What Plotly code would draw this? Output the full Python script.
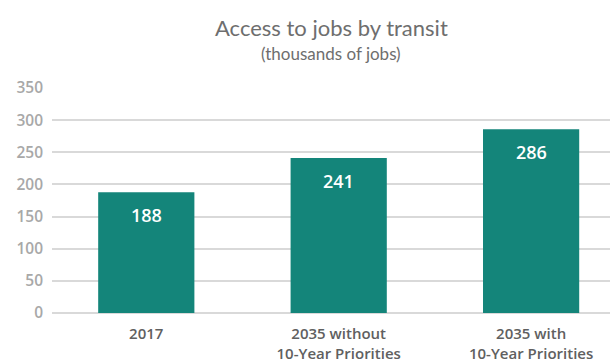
import plotly.graph_objects as go

categories = ["2017", "2035 without<br>10-Year Priorities", "2035 with<br>10-Year Priorities"]
values = [188, 241, 286]
y_ticks = [0, 50, 100, 150, 200, 250, 300, 350]

bar_color = "#14857a"

fig = go.Figure()
fig.add_trace(go.Bar(
    x=list(range(len(categories))),
    y=values,
    width=0.5,
    marker=dict(color=bar_color, line=dict(width=0)),
    hoverinfo="skip",
))

for i, v in enumerate(values):
    fig.add_annotation(
        x=i, y=v, yshift=-23, text=str(v), showarrow=False,
        font=dict(family="Open Sans", size=18, color="white", weight=600),
    )

fig.add_annotation(
    xref="paper", yref="paper", x=0.5, y=1, yshift=61, xanchor="center", yanchor="middle",
    text="Access to jobs by transit", showarrow=False,
    font=dict(family="Lato", size=22, color="#6e6e6e"),
)
fig.add_annotation(
    xref="paper", yref="paper", x=0.5, y=1, yshift=35, xanchor="center", yanchor="middle",
    text="(thousands of jobs)", showarrow=False,
    font=dict(family="Lato", size=17, color="#6e6e6e"),
)

fig.update_layout(
    width=610, height=364,
    margin=dict(l=52, r=0, t=88, b=51, autoexpand=False),
    paper_bgcolor="white", plot_bgcolor="white",
    showlegend=False,
)
fig.update_xaxes(
    tickmode="array",
    tickvals=list(range(len(categories))),
    ticktext=categories,
    range=[-0.49, 2.41],
    showgrid=False, zeroline=False, showline=False,
    ticks="", ticklabelstandoff=10, automargin=False,
    tickfont=dict(family="Open Sans", size=15, color="#606060", weight=600),
)
fig.update_yaxes(
    range=[0, 350],
    tickmode="array", tickvals=y_ticks,
    showgrid=True, gridcolor="#d9d9d9", gridwidth=1.5,
    zeroline=True, zerolinecolor="#d9d9d9", zerolinewidth=1.5,
    showline=False, ticks="", ticklabelstandoff=8, automargin=False,
    tickfont=dict(family="Open Sans", size=15.5, color="#a8a8a8", weight=600),
)

fig.write_html("out.html")
